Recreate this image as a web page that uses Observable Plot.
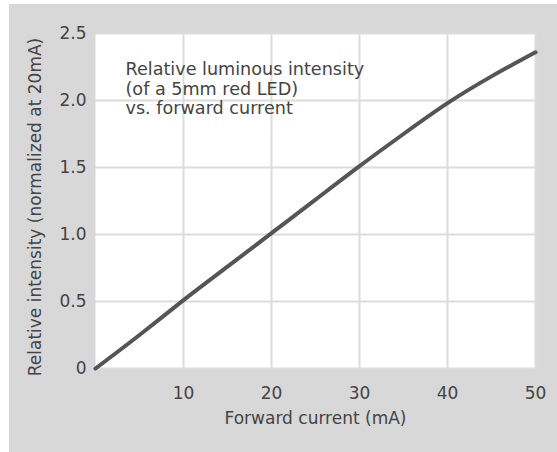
<!DOCTYPE html>
<html>
<head>
<meta charset="utf-8">
<script src="https://cdn.jsdelivr.net/npm/d3@7"></script>
<script src="https://cdn.jsdelivr.net/npm/@observablehq/plot@0.6"></script>
<style>
  html, body { margin: 0; padding: 0; background: #ffffff; }
  #chart { position: absolute; left: 9px; top: 4px; width: 548px; height: 448px; background: #d8d8d8; }
  #chart svg { display: block; font-family: "DejaVu Sans", sans-serif; }
</style>
</head>
<body>
<div id="chart"></div>
<script>
// Data
const current = [0, 5, 10, 15, 20, 25, 30, 35, 40, 45, 50];          // mA
const intensity = [0, 0.25, 0.51, 0.76, 1.01, 1.26, 1.51, 1.75, 1.98, 2.18, 2.36];
const xTicks = [10, 20, 30, 40, 50];
const yTicks = [0, 0.5, 1.0, 1.5, 2.0, 2.5];
const yTickLabels = ["0", "0.5", "1.0", "1.5", "2.0", "2.5"];
const xLabel = "Forward current (mA)";
const yLabel = "Relative intensity (normalized at 20mA)";
const note = "Relative luminous intensity\n(of a 5mm red LED)\nvs. forward current";

const data = current.map((c, i) => ({ c, v: intensity[i] }));

const chart = Plot.plot({
  width: 548,
  height: 448,
  marginLeft: 86,
  marginRight: 22,
  marginTop: 29,
  marginBottom: 84,
  style: { background: "transparent", fontFamily: "DejaVu Sans, sans-serif" },
  x: { domain: [0, 50], ticks: xTicks, label: null },
  y: { domain: [0, 2.5], ticks: yTicks, label: null },
  marks: [
    Plot.frame({ fill: "white", stroke: null }),
    Plot.gridX(xTicks, { stroke: "#dcdcdc", strokeOpacity: 1, strokeWidth: 2 }),
    Plot.gridY(yTicks, { stroke: "#dcdcdc", strokeOpacity: 1, strokeWidth: 2 }),
    Plot.axisX(xTicks, { tickSize: 0, tickPadding: 18, fontSize: 17, fill: "#444", label: null }),
    Plot.axisY(yTicks, { tickSize: 0, tickPadding: 9, fontSize: 17, fill: "#444", label: null,
      tickFormat: (d) => yTickLabels[yTicks.indexOf(d)] }),
    Plot.text([xLabel], { frameAnchor: "bottom", dy: 55, fontSize: 17, fill: "#444" }),
    Plot.text([yLabel], { frameAnchor: "left", dx: -60, dy: 6, rotate: -90, textAnchor: "middle",
      fontSize: 17, fill: "#444" }),
    Plot.text([note], { frameAnchor: "top-left", dx: 30, dy: 27, textAnchor: "start", lineAnchor: "top",
      fontSize: 17.6, lineHeight: 1.13, fill: "#444" }),
    Plot.line(data, { x: "c", y: "v", stroke: "#555", strokeWidth: 4, curve: "natural" })
  ]
});
document.getElementById("chart").appendChild(chart);
</script>
</body>
</html>
